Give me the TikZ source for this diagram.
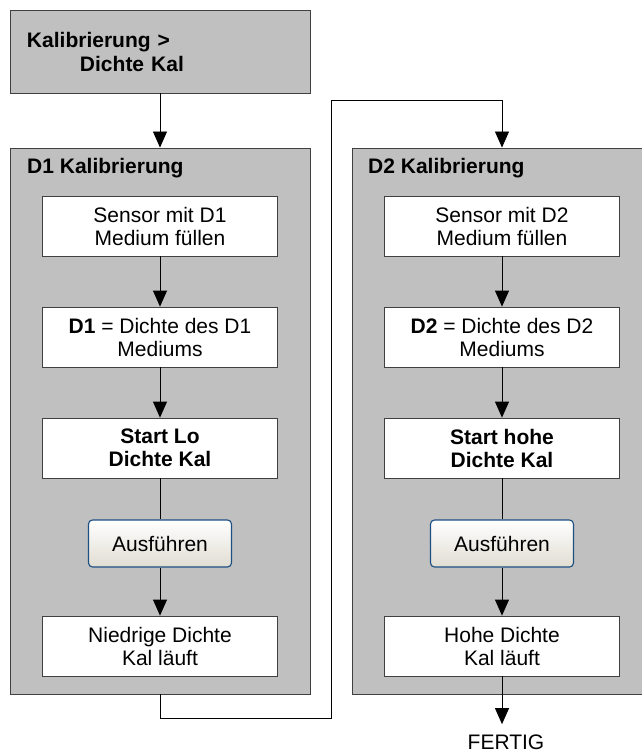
\documentclass[tikz,border=0pt]{standalone}
\usepackage{fontspec}
\setmainfont{Liberation Sans}
\usetikzlibrary{arrows.meta}

\definecolor{groupgray}{RGB}{192,192,192}
\definecolor{edgegray}{RGB}{64,64,64}
\definecolor{btnblue}{RGB}{28,79,130}
\definecolor{btnbottom}{RGB}{224,221,210}

\tikzset{
  group/.style={rectangle, draw=edgegray, fill=groupgray, line width=0.9pt, minimum width=300pt},
  stepbox/.style={rectangle, draw=edgegray, fill=white, line width=0.8pt, minimum width=235pt,
    minimum height=60pt, align=center, inner sep=0pt, font=\fontsize{21}{23}\selectfont},
  keybox/.style={stepbox, font=\fontsize{21}{23}\selectfont\bfseries},
  runbtn/.style={rectangle, rounded corners=4pt, draw=btnblue, line width=1.1pt, top color=white,
    bottom color=btnbottom, minimum width=143pt, minimum height=47pt, inner sep=0pt,
    font=\fontsize{21}{23}\selectfont},
  title/.style={anchor=base west, inner sep=0pt, font=\fontsize{21}{23}\selectfont\bfseries},
  link/.style={line width=0.8pt, black},
  arr/.style={link, -{Triangle[length=16pt,width=14pt]}}
}

\begin{document}
\begin{tikzpicture}[x=1pt, y=-1pt]
\useasboundingbox (0,0) rectangle (642,756);
\clip (0,0) rectangle (642,756);

\node[group, minimum height=83pt, text width=266pt, align=left, inner xsep=17pt, inner ysep=0pt,
  font=\fontsize{21}{24}\selectfont\bfseries] (menu) at (160,51.5) {Kalibrierung >\\\hspace*{53pt}Dichte Kal};

\node[group, minimum height=546pt] (grp1) at (160,421) {};
\node[group, minimum height=546pt] (grp2) at (502,421) {};
\node[title] (t1) at (27,173) {D1 Kalibrierung};
\node[title] (t2) at (368,173) {D2 Kalibrierung};

\node[stepbox] (a1) at (160,226) {Sensor mit D1\\Medium füllen};
\node[stepbox] (a2) at (160,337) {\textbf{D1} = Dichte des D1\\Mediums};
\node[keybox]  (a3) at (160,448) {Start Lo\\Dichte Kal};
\node[runbtn]  (a4) at (160,543.5) {Ausführen};
\node[stepbox] (a5) at (160,646) {Niedrige Dichte\\Kal läuft};

\node[stepbox] (b1) at (502,226) {Sensor mit D2\\Medium füllen};
\node[stepbox] (b2) at (502,337) {\textbf{D2} = Dichte des D2\\Mediums};
\node[keybox]  (b3) at (502,448) {Start hohe\\Dichte Kal};
\node[runbtn]  (b4) at (502,543.5) {Ausführen};
\node[stepbox] (b5) at (502,646) {Hohe Dichte\\Kal läuft};

\node[anchor=base, inner xsep=0pt, inner ysep=10pt, font=\fontsize{21}{23}\selectfont] (done) at (506,749) {FERTIG};

\coordinate (lo) at (331,718);
\coordinate (hi) at (331,100);

\draw[arr] (menu) -- (grp1);
\draw[arr] (a1) -- (a2);
\draw[arr] (a2) -- (a3);
\draw[link] (a3) -- (a4);
\draw[arr] (a4) -- (a5);
\draw[arr] (b1) -- (b2);
\draw[arr] (b2) -- (b3);
\draw[link] (b3) -- (b4);
\draw[arr] (b4) -- (b5);

\draw[arr] (grp1.south) |- (lo) -- (hi) -| (grp2.north);
\draw[arr] (b5.south) -- (b5.south |- done.north);

\end{tikzpicture}
\end{document}
